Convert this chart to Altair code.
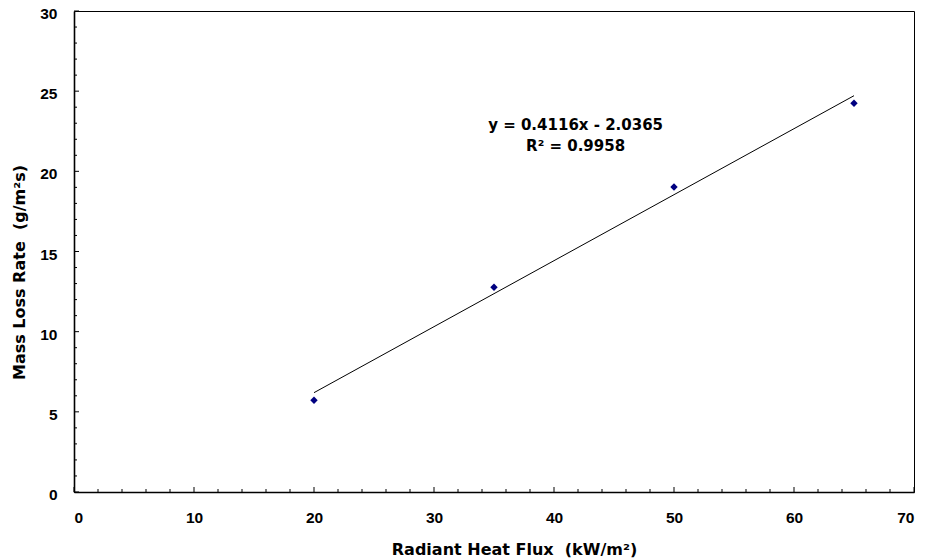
import altair as alt
import pandas as pd

# Data
flux = [20, 35, 50, 65]
mlr = [5.72, 12.77, 19.02, 24.25]

# Linear trend (from the displayed equation y = 0.4116x - 2.0365)
trend_x = [20, 65]
trend_y = [6.196, 24.718]

ann_text = ["y = 0.4116x - 2.0365", "R\u00b2 = 0.9958"]
ann_x = [41.8, 41.8]
ann_y = [22.88, 21.57]

x_major = [0, 10, 20, 30, 40, 50, 60, 70]
x_minor = [v for v in range(0, 71, 2) if v % 10 != 0]
y_major = [0, 5, 10, 15, 20, 25, 30]
y_minor = [v for v in range(0, 31) if v % 5 != 0]

W, H = 840, 481
FONT = "Liberation Sans"
WFONT = "DejaVu Sans"

xs = alt.Scale(domain=[0, 70], nice=False, zero=False)
ys = alt.Scale(domain=[0, 30], nice=False, zero=False)

pts_df = pd.DataFrame({"x": flux, "y": mlr})
trend_df = pd.DataFrame({"x": trend_x, "y": trend_y})
ann_df = pd.DataFrame({"x": ann_x, "y": ann_y, "t": ann_text})

x_axis = alt.Axis(
    values=x_major, format="d", ticks=False, tickSize=0, grid=False,
    domainColor="black", domainWidth=1.6,
    labelFont=FONT, labelFontSize=15.5, labelFontWeight="bold", labelColor="black",
    labelPadding=18, labelBaseline="top",
    title="Radiant Heat Flux \u00a0(kW/m\u00b2)", titleFont=WFONT, titleFontSize=16,
    titleFontWeight="bold", titleColor="black", titleX=440, titleY=62,
    titleAnchor="middle", titleAlign="center", titleBaseline="alphabetic",
)
y_axis = alt.Axis(
    values=y_major, format="d", ticks=False, tickSize=0, grid=False,
    domainColor="black", domainWidth=1.6,
    labelFont=FONT, labelFontSize=15.5, labelFontWeight="bold", labelColor="black",
    labelPadding=17, labelOffset=2.5,
    title="Mass Loss Rate \u00a0(g/m\u00b2s)", titleFont=WFONT, titleFontSize=16,
    titleFontWeight="bold", titleColor="black", titleX=-55, titleY=261,
    titleAngle=270, titleAlign="center", titleBaseline="middle",
)

X = lambda f: alt.X(f, scale=xs, axis=x_axis)
Y = lambda f: alt.Y(f, scale=ys, axis=y_axis)

points = alt.Chart(pts_df).mark_point(
    shape="diamond", filled=True, size=55, color="#000080", opacity=1
).encode(x=X("x:Q"), y=Y("y:Q"))

trend = alt.Chart(trend_df).mark_line(color="black", strokeWidth=1).encode(
    x=X("x:Q"), y=Y("y:Q"),
)

ann = alt.Chart(ann_df).mark_text(
    font=WFONT, fontSize=15, fontWeight="bold", color="black",
    align="center", baseline="middle",
).encode(x=X("x:Q"), y=Y("y:Q"), text="t:N")

def xticks(vals, size):
    return alt.Chart(pd.DataFrame({"x": vals})).mark_rule(color="black", strokeWidth=1).encode(
        x=X("x:Q"),
        y=alt.value(H),
        y2=alt.value(H - size),
    )

def yticks(vals, size):
    return alt.Chart(pd.DataFrame({"y": vals})).mark_rule(color="black", strokeWidth=1).encode(
        y=Y("y:Q"),
        x=alt.value(0),
        x2=alt.value(size),
    )

chart = alt.layer(
    points, trend, ann,
    xticks(x_minor, 3), xticks(x_major, 5),
    yticks(y_minor, 3), yticks(y_major, 5),
).properties(
    width=W, height=H,
    autosize=alt.AutoSizeParams(type="none"),
    padding={"left": 66, "top": 3, "right": 4, "bottom": 66},
    background="white",
).configure_view(stroke="black", strokeWidth=1)

chart.save("out.html", embed_options={"renderer": "svg", "actions": False})
